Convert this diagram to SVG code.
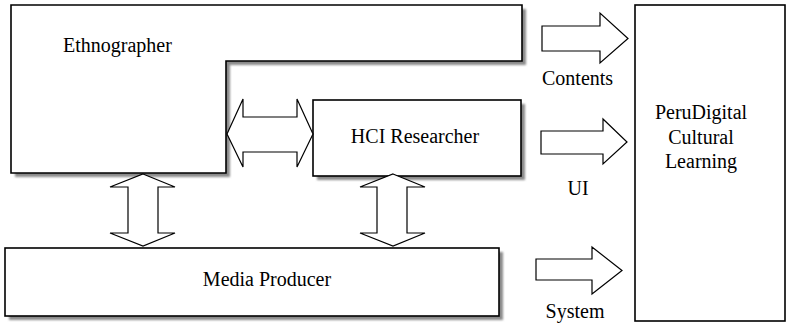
<svg xmlns="http://www.w3.org/2000/svg" width="786" height="323" viewBox="0 0 786 323">
<style>
.box{fill:#fff;stroke:#000;stroke-width:1.6}
.shadow{fill:#8a8a8a;filter:url(#blur)}
.arrow{fill:#fff;stroke:#000;stroke-width:1.2;stroke-linejoin:miter}
.t{font-family:'Liberation Serif','DejaVu Serif',serif;font-size:20px;fill:#000}
</style>
<defs>
<filter id="blur" x="-5%" y="-5%" width="110%" height="110%"><feGaussianBlur stdDeviation="1"/></filter>
</defs>
<g id="ethnographer">
<polygon class="shadow" points="15,9 526,9 526,65 230,65 230,177 15,177"/>
<polygon class="box" points="11,5 522,5 522,61 226,61 226,173 11,173"/>
<text class="t" font-family="Liberation Serif, serif" x="63" y="52">Ethnographer</text>
</g>
<g id="hci-researcher">
<rect class="shadow" x="317" y="104" width="208" height="76"/>
<rect class="box" x="313" y="100" width="208" height="76"/>
<text class="t" font-family="Liberation Serif, serif" x="415" y="143" text-anchor="middle">HCI Researcher</text>
</g>
<g id="media-producer">
<rect class="shadow" x="9" y="252" width="494" height="68"/>
<rect class="box" x="5" y="248" width="494" height="68"/>
<text class="t" font-family="Liberation Serif, serif" x="267" y="286" text-anchor="middle">Media Producer</text>
</g>
<g id="perudigital">
<rect class="box" x="635" y="5" width="150" height="316"/>
<text class="t" font-family="Liberation Serif, serif" x="701" y="119" text-anchor="middle">PeruDigital</text>
<text class="t" font-family="Liberation Serif, serif" x="701" y="144" text-anchor="middle">Cultural</text>
<text class="t" font-family="Liberation Serif, serif" x="701" y="168" text-anchor="middle">Learning</text>
</g>
<g id="connectors">
<polygon class="arrow" points="227,134 243,99 243,117 297,117 297,99 313,134 297,167 297,152 243,152 243,167"/>
<polygon class="arrow" points="143,174 175,187 158,187 158,233 175,233 143,246 110,233 128,233 128,187 110,187"/>
<polygon class="arrow" points="393,174 425,187 407,187 407,233 425,233 393,246 360,233 377,233 377,187 360,187"/>
<polygon class="arrow" points="542,26 600,26 600,13 628,38.5 600,63 600,51 542,51"/>
<polygon class="arrow" points="541,131 603,131 603,119 627,142 603,164 603,154 541,154"/>
<polygon class="arrow" points="536,259 592,259 592,247 622,270.5 592,294 592,280 536,280"/>
<text class="t" font-family="Liberation Serif, serif" x="542" y="85">Contents</text>
<text class="t" font-family="Liberation Serif, serif" x="578" y="195" text-anchor="middle">UI</text>
<text class="t" font-family="Liberation Serif, serif" x="575" y="318" text-anchor="middle">System</text>
</g>
</svg>
